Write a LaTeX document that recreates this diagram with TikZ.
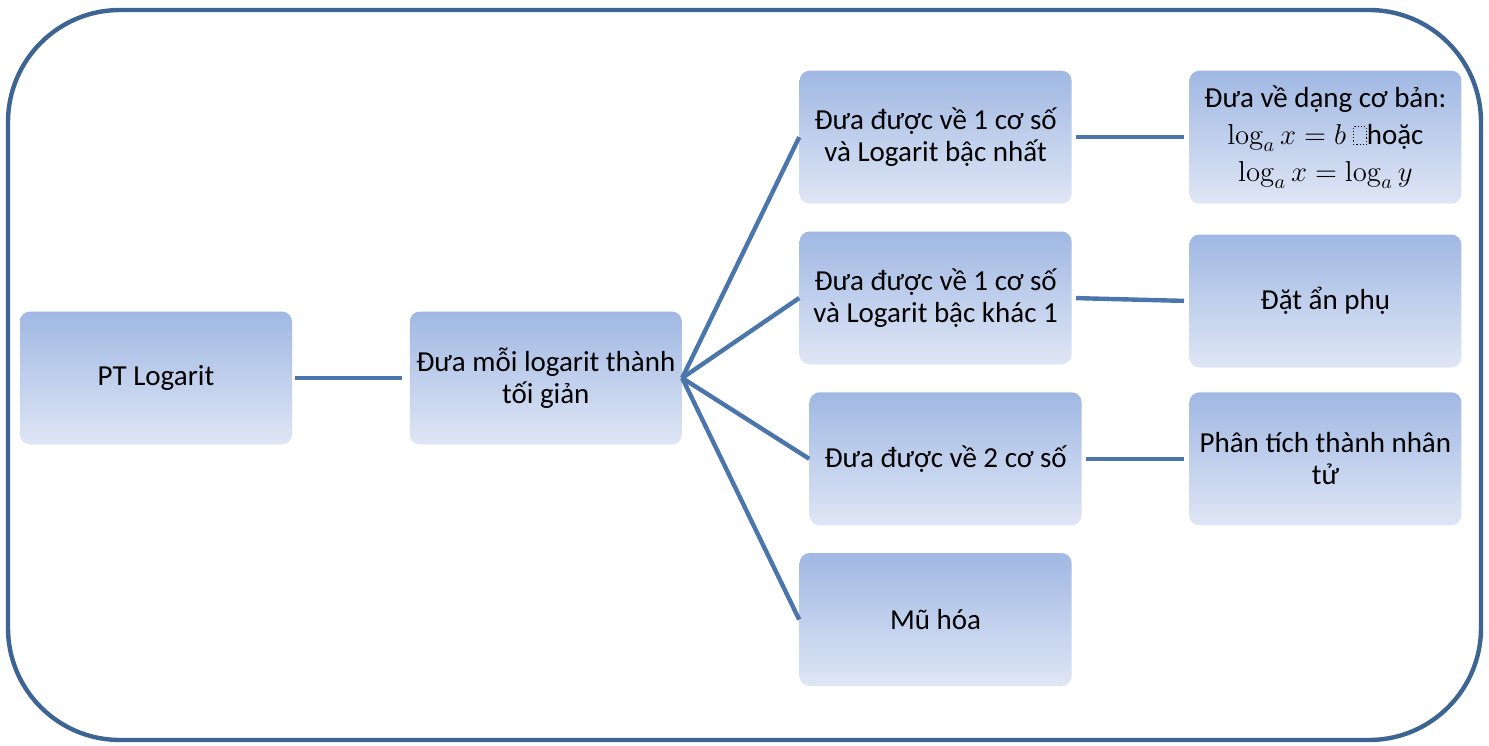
\documentclass[tikz,border=0pt]{standalone}
\usepackage[no-math]{fontspec}
\setmainfont{Carlito}
\usepackage{amsmath}
\usetikzlibrary{positioning}

\definecolor{framecol}{HTML}{3D6594}
\definecolor{linkcol}{HTML}{4A76AC}
\definecolor{boxtop}{HTML}{A0B8E3}
\definecolor{boxbot}{HTML}{DFE6F5}

\tikzset{
  topic/.style={rectangle, rounded corners=5pt, top color=boxtop, bottom color=boxbot,
    minimum width=136pt, minimum height=66.5pt, inner xsep=0pt, inner ysep=2pt, align=center,
    font=\fontsize{14.5}{16}\selectfont},
  link/.style={draw=linkcol, line width=2.2pt},
}
\newcommand{\dotbox}{\tikz[baseline=0pt,x=1pt,y=1pt]\draw[black,sharp corners,densely dotted,line width=0.6pt] (0,0) rectangle (6.5,9);}

\begin{document}
\begin{tikzpicture}[x=0.5pt,y=-0.5pt]
	\useasboundingbox (0,0) rectangle (1489,745);
	\draw[framecol, line width=2.2pt, rounded corners=56pt] (8,10) rectangle (1481,740);
	
	\node[topic] (logpt) at (156,378) {PT Logarit};
	\node[topic] (reduce) [right=58.5pt of logpt] {Đưa mỗi logarit thành\\tối giản};
	\node[topic] (base1) [right=58.5pt of reduce, yshift=40pt] {Đưa được về 1 cơ số\\và Logarit bậc khác 1};
	\node[topic] (linear) [above=13.5pt of base1] {Đưa được về 1 cơ số\\và Logarit bậc nhất};
	\node[topic] (base2) [below=13.5pt of base1, xshift=5pt] {Đưa được về 2 cơ số};
	\node[topic] (expo) [below=13.5pt of base2, xshift=-5pt] {Mũ hóa};
	\node[topic, font=\fontsize{14.5}{18.5}\selectfont] (basic) [right=58.5pt of linear]
		{Đưa về dạng cơ bản:\\ $\log_a x = b$ \dotbox{}hoặc\\ $\log_a x = \log_a y$};
	\node[topic] (subst) [right=58.5pt of base1, yshift=-1.5pt] {Đặt ẩn phụ};
	\node[topic] (factor) [right=53.5pt of base2] {Phân tích thành nhân\\tử};
	
	\draw[link, shorten <=1.5pt, shorten >=3.5pt] (logpt) -- (reduce);
	\foreach \b in {linear, base1, base2, expo}
		\draw[link] (reduce.east) -- (\b.west);
	\foreach \a/\b in {linear/basic, base1/subst, base2/factor}
		\draw[link, shorten <=2pt, shorten >=2.5pt] (\a.east) -- (\b.west);
\end{tikzpicture}
\end{document}
